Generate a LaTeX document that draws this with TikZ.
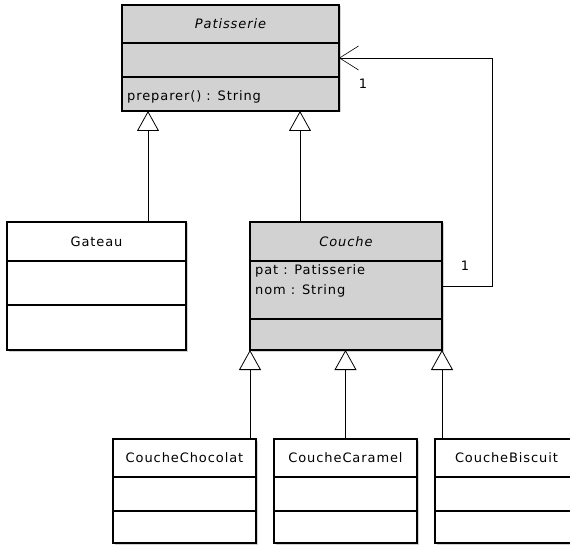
\documentclass[tikz,border=0pt]{standalone}
\usepackage{fontspec}
\newfontfamily\umlfont[LetterSpace=7]{DejaVu Sans}
\newcommand{\umlsize}{\fontsize{13}{15.5}\selectfont}
\definecolor{umlgray}{RGB}{210,210,210}
\usetikzlibrary{arrows.meta, positioning, shadows}

\begin{document}
\begin{tikzpicture}[
  x=1pt, y=-1pt,
  umlclass/.style={rectangle, draw=black, line width=1.1pt, fill=white, inner sep=0pt,
                   outer sep=0pt, anchor=north west,
                   drop shadow={shadow xshift=1.5pt, shadow yshift=-1.5pt, fill=black!35}},
  abstractclass/.style={umlclass, fill=umlgray},
  compline/.style={line width=1.1pt},
  cname/.style={font=\umlfont\umlsize, inner sep=0pt},
  aname/.style={font=\umlfont\umlsize\itshape, inner sep=0pt},
  attr/.style={font=\umlfont\umlsize, inner sep=0pt, anchor=base west},
  multlabel/.style={font=\umlfont\umlsize, inner sep=0pt},
  inherit/.style={-{Triangle[open, length=20pt, width=22pt, line width=0.8pt]}, line width=0.8pt},
  assocarr/.style={-{Straight Barb[length=19pt, width=24pt, line width=0.6pt]}, line width=0.8pt}
]
\useasboundingbox (0,0) rectangle (570,545);

% abstract base class
\node[abstractclass, minimum width=217pt, minimum height=106pt] (pat) at (122,5) {};
\draw[compline] ([yshift=-38pt]pat.north west) -- ([yshift=-38pt]pat.north east);
\draw[compline] ([yshift=-72pt]pat.north west) -- ([yshift=-72pt]pat.north east);
\node[aname] (pattitle) at ([yshift=-19pt]pat.north) {Patisserie};
\node[attr] (patop) at (127,101) {preparer() : String};

\node[umlclass, minimum width=179pt, minimum height=128pt] (gateau) at (7,222) {};
\draw[compline] ([yshift=-39pt]gateau.north west) -- ([yshift=-39pt]gateau.north east);
\draw[compline] ([yshift=-83pt]gateau.north west) -- ([yshift=-83pt]gateau.north east);
\node[cname] (gateautitle) at ([yshift=-19.5pt]gateau.north) {Gateau};

% decorator
\node[abstractclass, minimum width=192pt, minimum height=128pt] (couche) at (250,222) {};
\draw[compline] ([yshift=-39pt]couche.north west) -- ([yshift=-39pt]couche.north east);
\draw[compline] ([yshift=-97pt]couche.north west) -- ([yshift=-97pt]couche.north east);
\node[aname] (couchetitle) at ([yshift=-19.5pt]couche.north) {Couche};
\node[attr] (couchepat) at (255,274.5) {pat : Patisserie};
\node[attr] (couchenom) at (255,294.5) {nom : String};

% concrete layers
\node[umlclass, minimum width=143pt, minimum height=104pt] (choco) at (113,439) {};
\node[umlclass, minimum width=143pt, minimum height=104pt, right=18pt of choco] (caramel) {};
\node[umlclass, minimum width=143pt, minimum height=104pt, right=18pt of caramel] (biscuit) {};
\draw[compline] ([yshift=-38pt]choco.north west) -- ([yshift=-38pt]choco.north east);
\draw[compline] ([yshift=-72pt]choco.north west) -- ([yshift=-72pt]choco.north east);
\draw[compline] ([yshift=-38pt]caramel.north west) -- ([yshift=-38pt]caramel.north east);
\draw[compline] ([yshift=-72pt]caramel.north west) -- ([yshift=-72pt]caramel.north east);
\draw[compline] ([yshift=-38pt]biscuit.north west) -- ([yshift=-38pt]biscuit.north east);
\draw[compline] ([yshift=-72pt]biscuit.north west) -- ([yshift=-72pt]biscuit.north east);
\node[cname] (chocotitle) at ([yshift=-19pt]choco.north) {CoucheChocolat};
\node[cname] (carameltitle) at ([yshift=-19pt]caramel.north) {CoucheCaramel};
\node[cname] (biscuittitle) at ([yshift=-19pt]biscuit.north) {CoucheBiscuit};

% generalisations
\coordinate (pg) at ([xshift=26pt]pat.south west);
\coordinate (pc) at ([xshift=178pt]pat.south west);
\draw[inherit] (pg |- gateau.north) -- (pg);
\draw[inherit] (pc |- couche.north) -- (pc);
\draw[inherit] (couche.south west |- choco.north) -- (couche.south west);
\draw[inherit] (caramel.north |- choco.north) -- (caramel.north |- couche.south);
\draw[inherit] (couche.south east |- biscuit.north) -- (couche.south east);

% association couche -> patisserie
\coordinate (bend) at ([xshift=153pt]pat.east);
\draw[assocarr] (couche.east) -| (bend) -- (pat.east);
\node[multlabel] (mpat) at (363,84) {1};
\node[multlabel] (mcouche) at (465,266) {1};

\end{tikzpicture}
\end{document}
